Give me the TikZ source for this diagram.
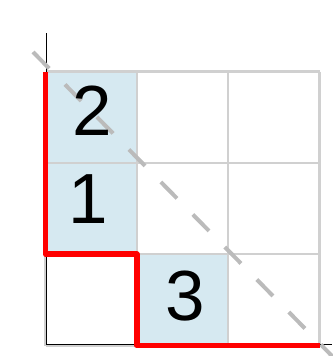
\documentclass[tikz,border=0pt]{standalone}
\usepackage{fontspec}
\setmainfont{Liberation Sans}
\definecolor{cellblue}{RGB}{214,233,241}
\definecolor{gridgray}{RGB}{208,208,208}
\definecolor{diaggray}{RGB}{187,187,187}
\tikzset{
  cellfill/.style={fill=cellblue},
  gridline/.style={draw=gridgray, line width=2.4pt},
  axisline/.style={draw=black, line width=1.3pt},
  diagline/.style={draw=diaggray, line width=4pt, dash pattern=on 23pt off 22.6pt},
  redpath/.style={draw=red, line width=5.5pt, line join=round},
  digit/.style={font=\fontsize{71}{71}\selectfont, inner sep=0pt, text=black}
}
\begin{document}
\begin{tikzpicture}[x=1pt,y=-1pt]
\useasboundingbox (0,0) rectangle (332,356);
% grid coordinates
\coordinate (g00) at (45.5,71.5);
\coordinate (g10) at (136.8,71.5);
\coordinate (g30) at (319.5,71.5);
\coordinate (g01) at (45.5,162.8);
\coordinate (g11) at (136.8,162.8);
\coordinate (g02) at (45.5,254.2);
\coordinate (g12) at (136.8,254.2);
\coordinate (g22) at (228.2,254.2);
\coordinate (g13) at (136.8,345.5);
\coordinate (g23) at (228.2,345.5);
\coordinate (g33) at (319.5,345.5);
% cell fills
\path[cellfill] (g00) rectangle (g11);
\path[cellfill] (g01) rectangle (g12);
\path[cellfill] (g12) rectangle (g23);
% grid lines
\foreach \x in {45.5,136.8,228.2,319.5}
  \draw[gridline] (\x,71.5) -- (\x,345.5);
\foreach \y in {71.5,162.8,254.2,345.5}
  \draw[gridline] (45.5,\y) -- (319.5,\y);
% axes
\coordinate (ytop) at (46.8,33);
\coordinate (origin) at (46.8,344.6);
\coordinate (xend) at (332,344.6);
\draw[axisline] (ytop) -- (origin) -- (xend);
% diagonal
\coordinate (dstart) at (33,52);
\coordinate (dend) at (334,358);
\draw[diagline] (dstart) -- (dend);
% red staircase
\draw[redpath] (g00) -- (g02) -- (g12) -- (g13) -- (g33);
% numbers
\node[digit] (two) at (92,111) {2};
\node[digit] (one) at (88,199) {1};
\node[digit] (three) at (185,296.5) {3};
\end{tikzpicture}
\end{document}
